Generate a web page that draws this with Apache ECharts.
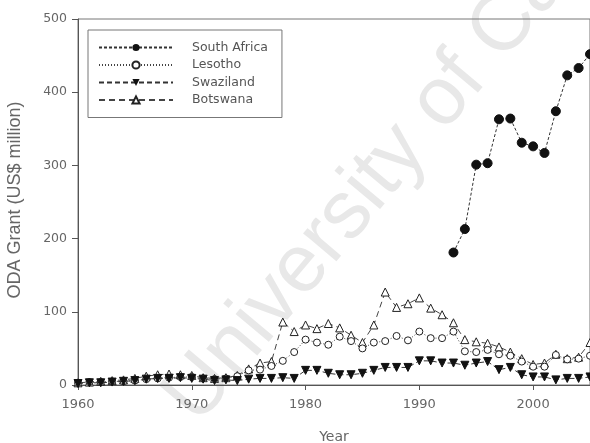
<!DOCTYPE html>
<html>
<head>
<meta charset="utf-8">
<script src="https://cdn.jsdelivr.net/npm/echarts@6/dist/echarts.min.js"></script>
<style>
html,body{margin:0;padding:0;background:#fff;}
#c{width:590px;height:443px;}
</style>
</head>
<body>
<div id="c"></div>
<script>
var years = [];
for (var y = 1960; y <= 2005; y++) years.push(y);

var southAfrica = [
  null,null,null,null,null,null,null,null,null,null,
  null,null,null,null,null,null,null,null,null,null,
  null,null,null,null,null,null,null,null,null,null,
  null,null,null,181,213,301,303,363,364,331,
  326,317,374,423,433,452
];
var lesotho = [
  3,4,4,5,5,6,8,9,10,11,
  11,9,8,9,12,20,21,26,33,45,
  62,58,55,66,60,50,58,60,67,61,
  73,64,64,73,46,45,48,42,40,32,
  25,25,41,35,36,40
];
var swaziland = [
  2,3,3,4,5,6,8,9,9,10,
  9,8,6,7,6,8,9,9,10,9,
  20,20,16,14,14,16,20,24,24,24,
  33,33,30,30,27,30,32,21,24,14,
  11,11,7,9,9,11
];
var botswana = [
  3,4,5,6,7,9,12,14,15,14,
  13,10,9,10,13,22,30,32,86,73,
  82,77,84,78,68,58,82,127,106,111,
  119,105,96,85,62,59,57,52,45,36,
  28,30,42,36,38,58
];

var yTicks = [0,100,200,300,400,500];
var xTicks = [1960,1970,1980,1990,2000];

function pairs(arr){ return years.map(function(yr,i){ return [yr, arr[i]]; }); }

var chart = echarts.init(document.getElementById('c'));
var font = 'DejaVu Sans, sans-serif';
chart.setOption({
  animation:false,
  backgroundColor:'#fff',
  grid:{left:78, right:0, top:19, bottom:58, show:true, borderColor:'#777', borderWidth:1},
  graphic:[
    {type:'text', z:-10, x:212, y:438, rotation: 50*Math.PI/180,
     style:{text:'University of Cape Town', fill:'#e8e8e8', font:'82px Liberation Sans', textAlign:'left', textVerticalAlign:'bottom'}},
    {type:'text', x:15, y:200, rotation:Math.PI/2, style:{text:'ODA Grant (US$ million)', fill:'#666', font:'18px Liberation Sans', textAlign:'center', textVerticalAlign:'middle'}},
    {type:'text', x:334, y:437, style:{text:'Year', fill:'#666', font:'14px DejaVu Sans', textAlign:'center', textVerticalAlign:'middle'}}
  ],
  legend:{
    orient:'vertical', left:88, top:30, padding:[11,14,11,10],
    borderColor:'#777', borderWidth:1, backgroundColor:'#fff',
    itemWidth:74, itemHeight:9, itemGap:4.5,
    textStyle:{fontFamily:font, fontSize:12.5, color:'#555', padding:[0,0,0,14]},
    data:['South Africa','Lesotho','Swaziland','Botswana']
  },
  xAxis:{
    type:'value', min:1960, max:2005, interval:10,
    axisLine:{show:true, lineStyle:{color:'#555'}},
    axisTick:{show:true, inside:false, length:5, lineStyle:{color:'#555'}},
    axisLabel:{fontFamily:font, fontSize:13, color:'#666', margin:13, showMaxLabel:false,
      formatter:function(v){ return String(v); }},
    splitLine:{show:false}
  },
  yAxis:{
    type:'value', min:0, max:500, interval:100,
    axisLine:{show:true, lineStyle:{color:'#555'}},
    axisTick:{show:true, inside:false, length:6, lineStyle:{color:'#555'}},
    axisLabel:{fontFamily:font, fontSize:12.5, color:'#666', margin:11},
    splitLine:{show:false}
  },
  series:[
    {name:'South Africa', type:'line', data:pairs(southAfrica), symbol:'circle', symbolSize:9,
     itemStyle:{color:'#111', borderColor:'#111'}, lineStyle:{color:'#333', width:1, type:[3,2]}, z:5},
    {name:'Lesotho', type:'line', data:pairs(lesotho), symbol:'circle', symbolSize:7,
     itemStyle:{color:'#fff', borderColor:'#222', borderWidth:1}, lineStyle:{color:'#444', width:1, type:[1,2]}, z:3},
    {name:'Swaziland', type:'line', data:pairs(swaziland), symbol:'triangle', symbolRotate:180, symbolSize:8,
     itemStyle:{color:'#111', borderColor:'#111'}, lineStyle:{color:'#333', width:1, type:[5,3]}, z:4},
    {name:'Botswana', type:'line', data:pairs(botswana), symbol:'triangle', symbolSize:8,
     itemStyle:{color:'#fff', borderColor:'#222', borderWidth:1}, lineStyle:{color:'#444', width:1, type:[6,4]}, z:2}
  ]
});
</script>
</body>
</html>
